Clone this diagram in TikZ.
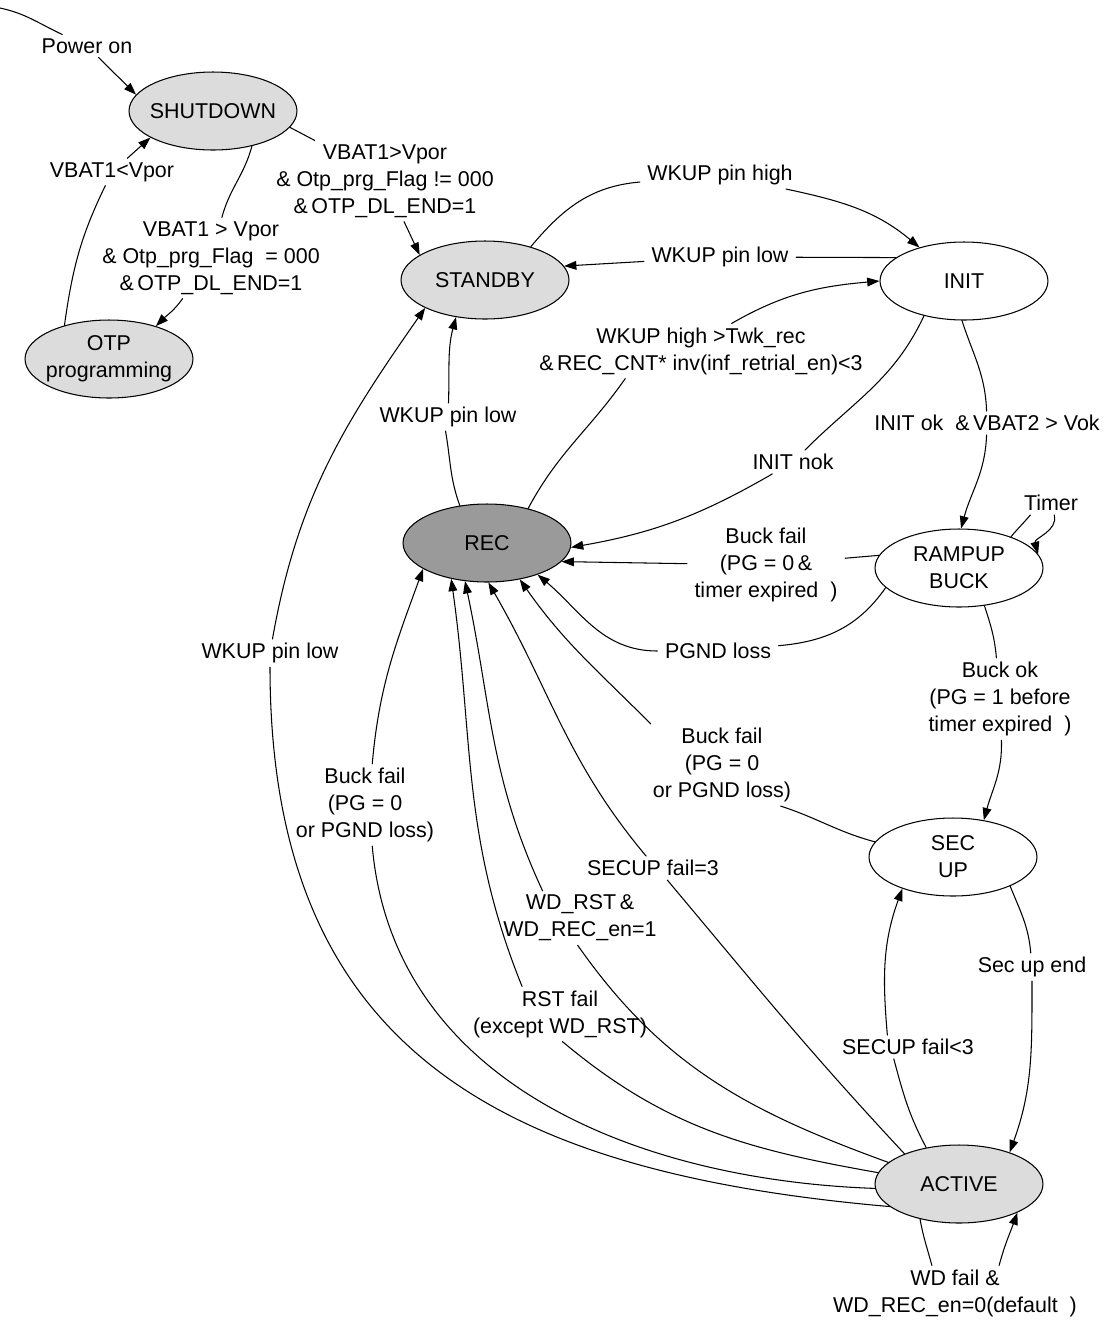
\documentclass[tikz,border=0pt]{standalone}
\usepackage{fontspec}
\setmainfont{Liberation Sans}
\usetikzlibrary{arrows.meta,shapes.geometric}
\definecolor{statefill}{HTML}{DCDCDC}
\definecolor{recfill}{HTML}{9A9A9A}
\begin{document}
\begin{tikzpicture}[x=0.02cm,y=0.02cm,>={Triangle[length=7pt,width=5pt]}, font=\fontsize{12.2}{15.4}\selectfont, line width=0.6pt, line join=round, line cap=round,
	st/.style={ellipse,draw,fill=statefill,align=center,inner xsep=-6pt,inner ysep=0pt,minimum width=3.36cm,minimum height=1.56cm},
	lbl/.style={align=center,inner xsep=4pt,inner ysep=2pt}]
	\useasboundingbox (0,0) rectangle (1117,-1320);
	% [Trang thai - Layer 1]
	\node[st] (SHUT) at (213,-111) {SHUTDOWN};
	\node[st] (OTP) at (109,-359) {OTP\\programming};
	\node[st] (STB) at (485,-280) {STANDBY};
	\node[st,fill=white] (INIT) at (964,-281) {INIT};
	\node[st,fill=recfill] (REC) at (487,-543) {REC};
	\node[st,fill=white] (RAMP) at (959,-568) {RAMPUP\\BUCK};
	\node[st,fill=white] (SECUP) at (953,-857) {SEC\\UP};
	\node[st] (ACT) at (959,-1184) {ACTIVE};
	\coordinate (pstart) at (0,-8);
	
	% [Nhan canh - Layer 2]
	\node[lbl] (lpow) at (87,-46) {Power on};
	\node[lbl] (lvlow) at (112,-172) {VBAT1<Vpor};
	\node[lbl] (lotp) at (211,-258) {VBAT1 > Vpor\\\& Otp\_prg\_Flag \ = 000\\\&\,OTP\_DL\_END=1};
	\node[lbl] (lstb) at (385,-181) {VBAT1>Vpor\\\& Otp\_prg\_Flag != 000\\\&\,OTP\_DL\_END=1};
	\node[lbl] (lwhigh) at (720,-175) {WKUP pin high};
	\node[lbl] (lwlow) at (720,-257) {WKUP pin low};
	\node[lbl] (lwrec) at (701,-351) {WKUP high >Twk\_rec\\\&\,REC\_CNT* inv(inf\_retrial\_en)<3};
	\node[lbl] (lwlrec) at (448,-417) {WKUP pin low};
	\node[lbl] (lwlact) at (270,-653) {WKUP pin low};
	\node[lbl] (lnok) at (793,-462) {INIT nok};
	\node[lbl] (lok) at (987,-423) {INIT ok \ \&\,VBAT2 > Vok};
	\node[lbl] (ltimer) at (1051,-503) {Timer};
	\node[lbl] (lbfr) at (766,-565) {Buck fail\\(PG = 0\,\&\\timer expired \ )};
	\node[lbl] (lpgnd) at (718,-651) {PGND loss};
	\node[lbl] (lbok) at (1000,-699) {Buck ok\\(PG = 1 before\\timer expired \ )};
	\node[lbl] (lbfs) at (722,-765) {Buck fail\\(PG = 0\\or PGND loss)};
	\node[lbl] (lsue) at (1032,-967) {Sec up end};
	\node[lbl] (lsfl) at (908,-1047) {SECUP fail<3};
	\node[lbl] (lwdf) at (955,-1293) {WD fail \&\\WD\_REC\_en=0(default \ )};
	\node[lbl] (lsfe) at (653,-868) {SECUP fail=3};
	\node[lbl] (lwdr) at (580,-918) {WD\_RST\,\&\\WD\_REC\_en=1};
	\node[lbl] (lrst) at (560,-1014) {RST fail\\(except WD\_RST)};
	\node[lbl] (lbfa) at (365,-805) {Buck fail\\(PG = 0\\or PGND loss)};
	
	% [Canh tren - Layer 3]
	\draw (pstart) to[out=-12,in=155] (lpow);
	\draw[->] (lpow) -- (SHUT.168);
	\draw (SHUT.-42) to[out=-105,in=75] (lotp);
	\draw[->] (lotp) to[out=-125,in=45] (OTP.35);
	\draw (OTP.143) to[out=82,in=-116] (lvlow);
	\draw[->] (lvlow) -- (SHUT.-157);
	\draw (SHUT.-12) -- (lstb.150);
	\draw[->] (lstb) -- (STB.159);
	\draw (STB.36) to[out=50,in=-175] (lwhigh);
	\draw[->] (lwhigh) to[out=-12,in=140] (INIT.143);
	\draw (INIT.161) -- (lwlow);
	\draw[->] (lwlow) -- (STB.10);
	\draw (REC.40) to[out=62,in=-125] (lwrec.-160);
	\draw[->] (lwrec.42) to[out=30,in=185] (INIT.180);
	\draw (REC.126) to[out=110,in=-80] (lwlrec.-100);
	\draw[->] (lwlrec) to[out=88,in=-105] (STB.-128);
	\draw (ACT.-162) to[out=175,in=-90,looseness=1.2] (lwlact);
	\draw[->] (lwlact) to[out=80,in=-125] (STB.-155);
	
	% [Canh giua - Layer 4]
	\draw (INIT.-139) to[out=-115,in=45] (lnok);
	\draw[->] (lnok.-150) to[out=-150,in=10] (REC.-3);
	\draw (INIT.-93) to[out=-72,in=92] (lok);
	\draw[->] (lok) to[out=-92,in=75] (RAMP.87);
	\draw (RAMP.31) to[out=50,in=-130] (ltimer.-150);
	\draw[->] (ltimer) to[out=-75,in=105] (RAMP.10);
	\draw (RAMP.171) -- (lbfr);
	\draw[->] (lbfr) -- (REC.-14);
	\draw (RAMP.-165) to[out=-125,in=5] (lpgnd);
	\draw[->] (lpgnd) to[out=180,in=-40] (REC.-32);
	\draw (RAMP.-56) to[out=-72,in=95] (lbok);
	\draw[->] (lbok) to[out=-88,in=75] (SECUP.50);
	\draw (SECUP.169) to[out=165,in=-18] (lbfs.-35);
	\draw[->] (lbfs.150) to[out=135,in=-55] (REC.-48);
	
	% [Canh duoi - Layer 5]
	\draw (SECUP.-27) to[out=-68,in=95] (lsue);
	\draw[->] (lsue) to[out=-90,in=70] (ACT.32);
	\draw (ACT.132) to[out=118,in=-75] (lsfl.-140);
	\draw[->] (lsfl.150) to[out=95,in=-110] (SECUP.-148);
	\draw (ACT.-138) to[out=-80,in=105] (lwdf.130);
	\draw[->] (lwdf.32) to[out=75,in=-110] (ACT.-26);
	\draw (ACT.151) to[out=133,in=-50] (lsfe.-40);
	\draw[->] (lsfe.120) to[out=130,in=-60] (REC.-88);
	\draw (ACT.163) to[out=160,in=-55] (lwdr.-95);
	\draw[->] (lwdr.144) to[out=115,in=-78] (REC.-120);
	\draw (ACT.172) to[out=170,in=-40] (lrst.-85);
	\draw[->] (lrst.144) to[out=112,in=-82] (REC.-135);
	\draw (ACT.-177) to[out=178,in=-85] (lbfa.-80);
	\draw[->] (lbfa.80) to[out=85,in=-110] (REC.-158);
\end{tikzpicture}
\end{document}
